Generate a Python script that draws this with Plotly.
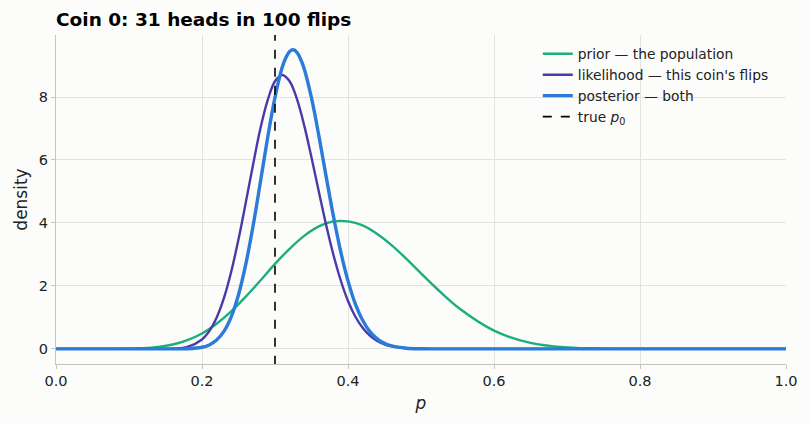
import plotly.graph_objects as go

# values
p_prior = [0.00, 0.05, 0.10, 0.12, 0.14, 0.16, 0.18, 0.20, 0.22, 0.24, 0.26, 0.28,
           0.30, 0.32, 0.34, 0.36, 0.38, 0.40, 0.42, 0.44, 0.46, 0.48, 0.50, 0.52,
           0.55, 0.60, 0.65, 0.70, 0.75, 0.80, 0.90, 1.00]
prior = [0, 0, 0.006, 0.022, 0.060, 0.139, 0.28, 0.49, 0.80, 1.19, 1.66, 2.17,
         2.70, 3.18, 3.59, 3.89, 4.05, 4.05, 3.92, 3.65, 3.29, 2.86, 2.40, 1.95,
         1.33, 0.58, 0.19, 0.046, 0.007, 0.001, 0, 0]

p_like = [0.00, 0.05, 0.10, 0.12, 0.14, 0.16, 0.18,
          0.20, 0.21, 0.22, 0.23, 0.24, 0.25, 0.26, 0.27, 0.28, 0.29,
          0.30, 0.31, 0.32, 0.33, 0.34, 0.35, 0.36, 0.37, 0.38, 0.39,
          0.40, 0.41, 0.42, 0.43, 0.44, 0.45, 0.46, 0.48, 0.50, 0.52,
          0.55, 0.60, 0.70, 0.80, 0.90, 1.00]
likelihood = [0, 0, 0, 0, 0.0007, 0.0085, 0.062,
              0.30, 0.565, 0.99, 1.61, 2.45, 3.48, 4.65, 5.86, 7.0, 7.90,
              8.50, 8.70, 8.50, 7.94, 7.10, 6.08, 5.0, 3.94, 2.99, 2.18,
              1.52, 1.03, 0.67, 0.42, 0.25, 0.145, 0.081, 0.022, 0.005, 0.001,
              0, 0, 0, 0, 0, 0]

p_post = [0.00, 0.05, 0.10, 0.12, 0.14, 0.16, 0.18,
          0.20, 0.21, 0.22, 0.23, 0.24, 0.25, 0.26, 0.27, 0.28, 0.29,
          0.30, 0.31, 0.315, 0.32, 0.325, 0.33, 0.335, 0.34, 0.35, 0.36, 0.37, 0.38, 0.39,
          0.40, 0.41, 0.42, 0.43, 0.44, 0.45, 0.46, 0.48, 0.50, 0.52,
          0.55, 0.60, 0.70, 0.80, 0.90, 1.00]
posterior = [0, 0, 0, 0, 0, 0.0005, 0.006,
             0.051, 0.125, 0.28, 0.555, 1.02, 1.72, 2.69, 3.91, 5.30, 6.72,
             7.99, 8.95, 9.255, 9.445, 9.50, 9.42, 9.21, 8.90, 7.97, 6.78, 5.48, 4.22, 3.09,
             2.16, 1.43, 0.91, 0.55, 0.32, 0.176, 0.093, 0.022, 0.004, 0.001,
             0, 0, 0, 0, 0, 0]
true_p0 = 0.30
names = ["prior — the population", "likelihood — this coin's flips",
         "posterior — both", "true <i>p</i><sub>0</sub>"]

fig = go.Figure()
fig.add_trace(go.Scatter(x=p_prior, y=prior, mode="lines", name=names[0],
                         line=dict(color="#1aaf7c", width=2.4, shape="spline", smoothing=1)))
fig.add_trace(go.Scatter(x=p_like, y=likelihood, mode="lines", name=names[1],
                         line=dict(color="#4a3aa8", width=2.4, shape="spline", smoothing=1)))
fig.add_trace(go.Scatter(x=p_post, y=posterior, mode="lines", name=names[2],
                         line=dict(color="#2b7bd8", width=3.4, shape="spline", smoothing=1)))
fig.add_trace(go.Scatter(x=[true_p0, true_p0], y=[-0.5, 10], mode="lines", name=names[3],
                         line=dict(color="black", width=1.6, dash="dash")))

fig.update_layout(
    width=810, height=425,
    paper_bgcolor="#fcfcfa", plot_bgcolor="#fcfcfa",
    font=dict(family="DejaVu Sans", size=14.5, color="#222"),
    margin=dict(l=56, r=24, t=35, b=61, autoexpand=False),
    title=dict(text="<b>Coin 0: 31 heads in 100 flips</b>", x=56/810, xanchor="left",
               y=0.955, yanchor="middle", font=dict(size=18.5, color="black")),
    legend=dict(x=0.66, y=0.99, xanchor="left", yanchor="top", bgcolor="rgba(0,0,0,0)",
                font=dict(size=13.8), tracegroupgap=0, itemwidth=30),
    showlegend=True,
)
fig.update_xaxes(range=[0, 1], tickvals=[0, 0.2, 0.4, 0.6, 0.8, 1.0], tickformat=".1f",
                 title=dict(text="<i>p</i>", standoff=8), showgrid=True, gridcolor="#e3e3de",
                 showline=True, linecolor="#c4c4bc", linewidth=1, ticks="outside", ticklen=4,
                 tickcolor="#c4c4bc", zeroline=False)
fig.update_yaxes(range=[-0.48, 9.97], tickvals=[0, 2, 4, 6, 8],
                 title=dict(text="density", standoff=6), showgrid=True, gridcolor="#e3e3de",
                 showline=True, linecolor="#c4c4bc", linewidth=1, ticks="outside", ticklen=4,
                 tickcolor="#c4c4bc", zeroline=False)

fig.write_html("out.html", config={"displayModeBar": False},
               post_script="document.body.style.margin='0px';")
